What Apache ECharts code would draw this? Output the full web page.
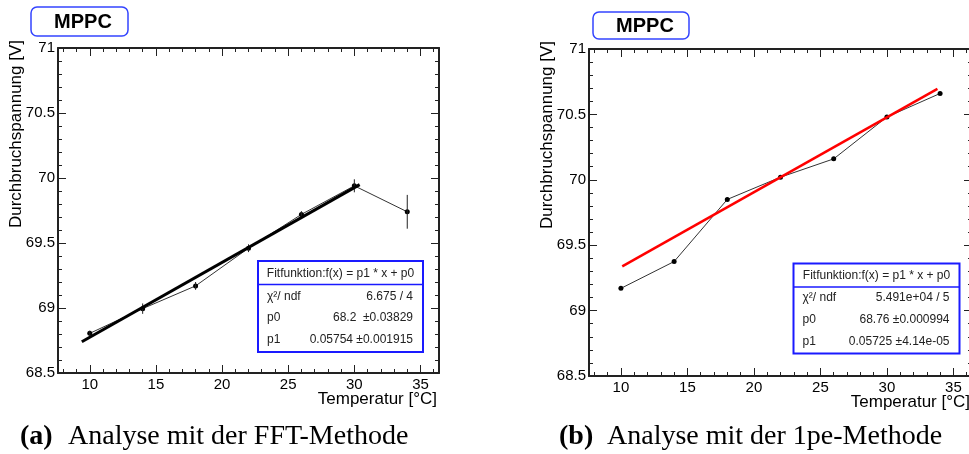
<!doctype html>
<html>
<head>
<meta charset="utf-8">
<title>MPPC Durchbruchspannung</title>
<script src="https://cdn.jsdelivr.net/npm/echarts@6/dist/echarts.min.js"></script>
<style>
    html, body { margin: 0; padding: 0; background: #fff; }
    #container { width: 969px; height: 454px; }
</style>
</head>
<body>
<div id="container"></div>
<script type="text/javascript">
    // Messpunkte (Temperatur in °C)
    var temps = [10, 14, 18, 22, 26, 30, 34];
    // (a) FFT-Methode
    var fftVoltage = [68.805, 68.995, 69.17, 69.46, 69.72, 69.94, 69.74];
    var fftError = [0.02, 0.04, 0.03, 0.03, 0.025, 0.05, 0.13];
    var fftFitRange = [9.4, 30.4];
    var fftFit = { p0: 68.2, p1: 0.05754 };
    // (b) 1pe-Methode
    var peVoltage = [69.17, 69.375, 69.85, 70.02, 70.16, 70.48, 70.66];
    var peFitRange = [10.1, 33.8];
    var peFit = { p0: 68.76, p1: 0.05725 };

    // Achsen
    var xRange = [7.6, 36.4];
    var yRange = [68.5, 71];
    var xMajorTicks = [10, 15, 20, 25, 30, 35];
    var xMinorTicks = [8, 9, 11, 12, 13, 14, 16, 17, 18, 19, 21, 22, 23, 24, 26, 27, 28, 29, 31, 32, 33, 34, 36];

    var frameColor = '#222';
    var sans = 'Liberation Sans';

    function points(xs, ys) {
        var out = [];
        for (var i = 0; i < xs.length; i++) out.push([xs[i], ys[i]]);
        return out;
    }

    function fitLine(range, fit) {
        return [
            [range[0], fit.p0 + fit.p1 * range[0]],
            [range[1], fit.p0 + fit.p1 * range[1]]
        ];
    }

    // vier x-Achsen je Grid: unten/oben, jeweils Haupt- und Nebenstriche
    function makeXAxes(g) {
        var list = [];
        ['bottom', 'top'].forEach(function (pos) {
            [true, false].forEach(function (major) {
                var ax = {
                    gridIndex: g,
                    type: 'value',
                    position: pos,
                    min: xRange[0],
                    max: xRange[1],
                    splitLine: { show: false },
                    axisLine: { show: major, onZero: false, lineStyle: { color: frameColor, width: 2 } },
                    axisTick: {
                        show: true,
                        inside: true,
                        length: major ? 8 : 4,
                        customValues: major ? xMajorTicks : xMinorTicks,
                        lineStyle: { color: frameColor, width: 1 }
                    },
                    axisLabel: { show: false }
                };
                if (pos === 'bottom' && major) {
                    ax.axisLabel = {
                        show: true,
                        customValues: xMajorTicks,
                        margin: 4,
                        color: '#000',
                        fontFamily: sans,
                        fontSize: 15
                    };
                    ax.name = 'Temperatur [°C]';
                    ax.nameLocation = 'end';
                    ax.nameGap = -2;
                    ax.nameMoveOverlap = false;
                    ax.nameTextStyle = {
                        color: '#000', fontFamily: sans, fontSize: 17,
                        align: 'right', verticalAlign: 'top', padding: [18, 0, 0, 0]
                    };
                }
                list.push(ax);
            });
        });
        return list;
    }

    function makeYAxes(g) {
        var list = [];
        ['left', 'right'].forEach(function (pos) {
            var ax = {
                gridIndex: g,
                type: 'value',
                position: pos,
                min: yRange[0],
                max: yRange[1],
                interval: 0.5,
                splitLine: { show: false },
                axisLine: { show: true, onZero: false, lineStyle: { color: frameColor, width: 2 } },
                axisTick: { show: true, inside: true, length: 8, lineStyle: { color: frameColor, width: 1 } },
                minorTick: { show: true, splitNumber: 5, length: 4, lineStyle: { color: frameColor, width: 1 } },
                axisLabel: { show: false }
            };
            if (pos === 'left') {
                ax.axisLabel = { show: true, margin: 3, color: '#000', fontFamily: sans, fontSize: 15 };
                ax.name = 'Durchbruchspannung [V]';
                ax.nameLocation = 'end';
                ax.nameRotate = 90;
                ax.nameGap = 8;
                ax.nameMoveOverlap = false;
                ax.nameTextStyle = {
                    color: '#000', fontFamily: sans, fontSize: 17,
                    align: 'right', verticalAlign: 'bottom', padding: [0, 0, 33, 0]
                };
            }
            list.push(ax);
        });
        return list;
    }

    function errorBars(xs, ys, es, xi, yi) {
        var data = [];
        for (var i = 0; i < xs.length; i++) data.push([xs[i], ys[i], es[i]]);
        return {
            type: 'custom',
            xAxisIndex: xi,
            yAxisIndex: yi,
            data: data,
            z: 3,
            renderItem: function (params, api) {
                var x = api.value(0), y = api.value(1), e = api.value(2);
                var a = api.coord([x, y + e]);
                var b = api.coord([x, y - e]);
                return {
                    type: 'line',
                    shape: { x1: a[0], y1: a[1], x2: b[0], y2: b[1] },
                    style: { stroke: '#222', lineWidth: 1 }
                };
            }
        };
    }

    function statsBox(x, y, w, h, sep, rows, header) {
        var children = [
            { type: 'rect', shape: { x: x, y: y, width: w, height: h }, style: { fill: '#fff', stroke: '#1a1aff', lineWidth: 2 } },
            { type: 'line', shape: { x1: x, y1: sep, x2: x + w, y2: sep }, style: { stroke: '#1a1aff', lineWidth: 1.5 } },
            { type: 'text', x: x + w / 2, y: header, style: { text: 'Fitfunktion:f(x) = p1 * x + p0', fontFamily: sans, fontSize: 12, fill: '#222', align: 'center', verticalAlign: 'middle' } }
        ];
        rows.forEach(function (r) {
            children.push({ type: 'text', x: x + 9, y: r[2], style: { text: r[0], fontFamily: sans, fontSize: 12, fill: '#222', align: 'left', verticalAlign: 'middle' } });
            children.push({ type: 'text', x: x + w - 10, y: r[2], style: { text: r[1], fontFamily: sans, fontSize: 12, fill: '#222', align: 'right', verticalAlign: 'middle' } });
        });
        return { type: 'group', z: 100, children: children };
    }

    function mppcBox(x, y, w, h, tx) {
        return {
            type: 'group', z: 100,
            children: [
                { type: 'rect', shape: { x: x, y: y, width: w, height: h, r: 6 }, style: { fill: '#fff', stroke: '#3344ff', lineWidth: 1.5 } },
                { type: 'text', x: tx, y: y + h / 2 + 1, style: { text: 'MPPC', fontFamily: sans, fontWeight: 'bold', fontSize: 20, fill: '#000', align: 'center', verticalAlign: 'middle' } }
            ]
        };
    }

    function caption(x, y, tag, text) {
        return {
            type: 'group', z: 100,
            children: [
                { type: 'text', x: x, y: y, style: { text: tag, fontFamily: 'Liberation Serif', fontWeight: 'bold', fontSize: 28, fill: '#000', align: 'left', verticalAlign: 'middle' } },
                { type: 'text', x: x + 48, y: y, style: { text: text, fontFamily: 'Liberation Serif', fontSize: 28, fill: '#000', align: 'left', verticalAlign: 'middle' } }
            ]
        };
    }

    var option = {
        animation: false,
        backgroundColor: '#fff',
        grid: [
            { left: 58, top: 48, width: 381, height: 325, outerBoundsMode: 'none' },
            { left: 589, top: 49, width: 383, height: 327, outerBoundsMode: 'none' }
        ],
        xAxis: makeXAxes(0).concat(makeXAxes(1)),
        yAxis: makeYAxes(0).concat(makeYAxes(1)),
        series: [
            {
                type: 'line', xAxisIndex: 0, yAxisIndex: 0, z: 2,
                data: points(temps, fftVoltage),
                symbol: 'circle', symbolSize: 5,
                lineStyle: { color: '#333', width: 1 },
                itemStyle: { color: '#000' }
            },
            errorBars(temps, fftVoltage, fftError, 0, 0),
            {
                type: 'line', xAxisIndex: 0, yAxisIndex: 0, z: 4,
                data: fitLine(fftFitRange, fftFit),
                symbol: 'none',
                lineStyle: { color: '#000', width: 3 }
            },
            {
                type: 'line', xAxisIndex: 4, yAxisIndex: 2, z: 2,
                data: points(temps, peVoltage),
                symbol: 'circle', symbolSize: 5,
                lineStyle: { color: '#333', width: 1 },
                itemStyle: { color: '#000' }
            },
            {
                type: 'line', xAxisIndex: 4, yAxisIndex: 2, z: 4,
                data: fitLine(peFitRange, peFit),
                symbol: 'none',
                lineStyle: { color: '#ff0000', width: 2.5 }
            }
        ],
        graphic: [
            mppcBox(31, 7, 97, 29, 83),
            mppcBox(593, 12, 96, 27, 645),
            statsBox(258, 261, 165, 91, 284.5, [
                ['χ²/ ndf', '6.675 / 4', 297],
                ['p0', '68.2  ±0.03829', 318],
                ['p1', '0.05754 ±0.001915', 340]
            ], 273.5),
            statsBox(793.5, 263.5, 166, 90, 287, [
                ['χ²/ ndf', '5.491e+04 / 5', 298],
                ['p0', '68.76 ±0.000994', 319.5],
                ['p1', '0.05725 ±4.14e-05', 342]
            ], 276),
            caption(20, 437, '(a)', 'Analyse mit der FFT-Methode'),
            caption(559, 437, '(b)', 'Analyse mit der 1pe-Methode')
        ]
    };

    var myChart = echarts.init(document.getElementById('container'));
    myChart.setOption(option);
</script>
</body>
</html>
